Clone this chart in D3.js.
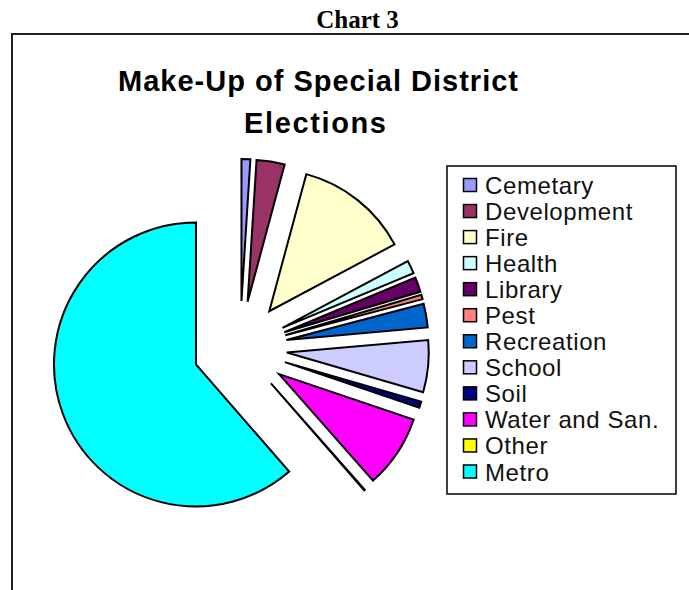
<!DOCTYPE html>
<html>
<head>
<meta charset="utf-8">
<script src="https://cdn.jsdelivr.net/npm/d3@7"></script>
<style>
  body { margin: 0; background: #fff; }
</style>
</head>
<body>
<div id="chart-area"></div>
<script>
/*
 *    chart 3 - exploded pie
 */

const width = 689;
const height = 590;

// shares (percent), clockwise from 12 o'clock
const districts = ["Cemetary", "Development", "Fire", "Health", "Library", "Pest",
    "Recreation", "School", "Soil", "Water and San.", "Other", "Metro"];
const shares = [1.0, 3.2, 13.0, 1.5, 1.7, 0.5, 2.7, 5.9, 0.7, 8.3, 0.1, 61.4];
const colours = ["#9999FF", "#993366", "#FFFFCC", "#CCFFFF", "#660066", "#FF8080",
    "#0066CC", "#CCCCFF", "#000080", "#FF00FF", "#FFFF00", "#00FFFF"];

const svg = d3.select("#chart-area")
    .append("svg")
    .attr("width", width)
    .attr("height", height);

// page heading
svg.append("text")
    .attr("x", 357.5)
    .attr("y", 28)
    .attr("text-anchor", "middle")
    .attr("font-family", "'Liberation Serif', 'Times New Roman', serif")
    .attr("font-weight", "bold")
    .attr("font-size", "25px")
    .text("Chart 3");

// chart frame (runs off the right and bottom)
svg.append("path")
    .attr("d", "M12," + (height + 5) + " V34 H" + (width + 5))
    .attr("fill", "none")
    .attr("stroke", "#222")
    .attr("stroke-width", 2);

/** Title */
const title = svg.append("g")
    .attr("font-family", "'Liberation Sans', Arial, sans-serif")
    .attr("font-weight", "bold")
    .attr("font-size", "29px")
    .attr("text-anchor", "middle");

title.append("text")
    .attr("x", 318)
    .attr("y", 91)
    .attr("textLength", 400)
    .attr("lengthAdjust", "spacing")
    .text("Make-Up of Special District");

title.append("text")
    .attr("x", 315)
    .attr("y", 133)
    .attr("textLength", 142)
    .attr("lengthAdjust", "spacing")
    .text("Elections");

/** Pie */
const cx = 240, cy = 348;
const radius = 142;
const explode = 47;

const pie = d3.pie().sort(null).value((d) => d.share);
const arc = d3.arc().innerRadius(0).outerRadius(radius);

const data = districts.map((name, i) => ({ name: name, share: shares[i], colour: colours[i] }));

const g = svg.append("g")
    .attr("transform", "translate(" + cx + ", " + cy + ")");

g.selectAll("path")
    .data(pie(data))
    .enter()
    .append("path")
    .attr("transform", (d) => {
        const mid = (d.startAngle + d.endAngle) / 2;
        return "translate(" + (Math.sin(mid) * explode) + ", " + (-Math.cos(mid) * explode) + ")";
    })
    .attr("d", arc)
    .attr("fill", (d) => d.data.colour)
    .attr("stroke", "#000")
    .attr("stroke-width", 2)
    .attr("stroke-linejoin", "miter");

/** Legend */
const legend = svg.append("g");

legend.append("rect")
    .attr("x", 447)
    .attr("y", 166)
    .attr("width", 229)
    .attr("height", 328)
    .attr("fill", "#fff")
    .attr("stroke", "#000")
    .attr("stroke-width", 1.5);

const rowY = d3.scalePoint().domain(districts).range([185, 471.5]);

const item = legend.selectAll("g.item")
    .data(data)
    .enter()
    .append("g")
    .attr("class", "item")
    .attr("transform", (d) => "translate(0, " + rowY(d.name) + ")");

item.append("rect")
    .attr("x", 463.5)
    .attr("y", -6.5)
    .attr("width", 13)
    .attr("height", 13)
    .attr("fill", (d) => d.colour)
    .attr("stroke", "#000")
    .attr("stroke-width", 1.5);

item.append("text")
    .attr("x", 485)
    .attr("y", 9)
    .attr("font-family", "'Liberation Sans', Arial, sans-serif")
    .attr("font-size", "24px")
    .attr("letter-spacing", "0.6px")
    .style("fill", "#111")
    .text((d) => d.name);
</script>
</body>
</html>
